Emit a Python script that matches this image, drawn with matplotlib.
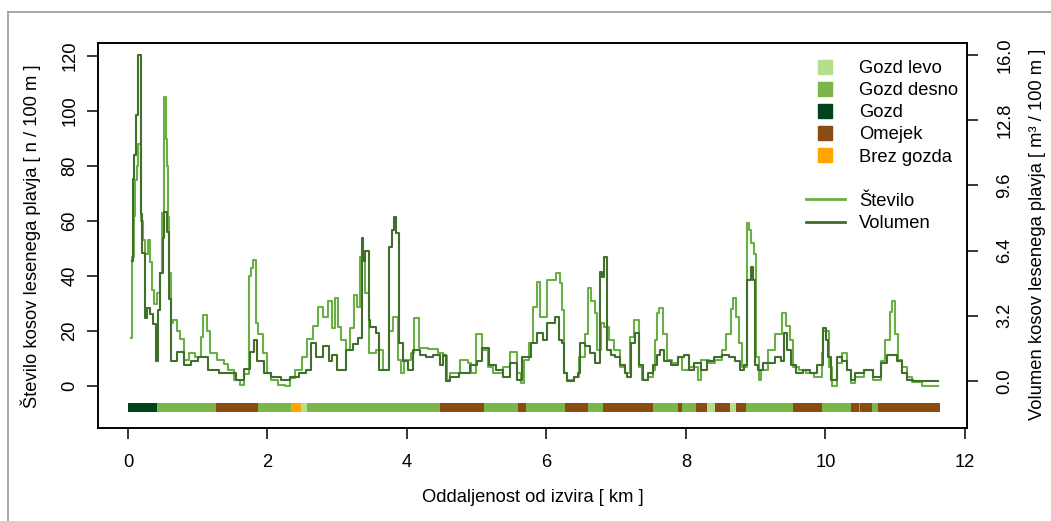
import matplotlib
matplotlib.use("Agg")
import matplotlib.pyplot as plt
from matplotlib.lines import Line2D
import numpy as np

plt.rcParams['font.family'] = ['Liberation Sans', 'DejaVu Sans']

# ---------------- data ----------------
km_stevilo = [0.05, 0.06, 0.08, 0.10, 0.13, 0.15, 0.18, 0.21, 0.25, 0.28, 0.31, 0.34, 0.38, 0.42,
              0.46, 0.49, 0.52, 0.54, 0.55, 0.56, 0.57, 0.59, 0.61, 0.65, 0.70, 0.75, 0.80, 0.88,
              0.96, 1.05, 1.08, 1.13, 1.17, 1.28, 1.38, 1.43, 1.52, 1.60, 1.66, 1.73, 1.76, 1.79,
              1.83, 1.87, 1.93, 1.99, 2.05, 2.15, 2.25, 2.32, 2.40, 2.50, 2.57, 2.65, 2.72, 2.80,
              2.87, 2.92, 2.97, 3.01, 3.06, 3.12, 3.18, 3.24, 3.29, 3.33, 3.40, 3.45, 3.55, 3.65,
              3.74, 3.80, 3.87, 3.91, 3.96, 4.06, 4.10, 4.17, 4.30, 4.45, 4.52, 4.57, 4.62, 4.76,
              4.88, 4.92, 4.99, 5.08, 5.16, 5.24, 5.38, 5.48, 5.58, 5.63, 5.68, 5.75, 5.80, 5.86,
              5.90, 6.01, 6.14, 6.19, 6.22, 6.25, 6.30, 6.40, 6.47, 6.55, 6.60, 6.64, 6.69, 6.73,
              6.78, 6.83, 6.90, 6.97, 7.05, 7.13, 7.20, 7.26, 7.32, 7.37, 7.45, 7.52, 7.56, 7.59,
              7.62, 7.67, 7.73, 7.80, 7.88, 7.95, 8.05, 8.17, 8.22, 8.33, 8.42, 8.52, 8.58, 8.64,
              8.67, 8.72, 8.76, 8.80, 8.87, 8.90, 8.93, 8.98, 9.01, 9.04, 9.08, 9.17, 9.27, 9.37,
              9.44, 9.49, 9.54, 9.62, 9.72, 9.84, 9.95, 9.97, 10.05, 10.10, 10.16, 10.24, 10.31,
              10.36, 10.42, 10.55, 10.68, 10.80, 10.86, 10.92, 10.95, 10.99, 11.04, 11.10, 11.17,
              11.24, 11.38, 11.62]
stevilo = [17.5, 47, 62, 75, 80, 88, 60, 53, 48, 53, 45, 35, 30, 34,
           41, 63, 105, 96, 90, 80, 61.5, 41, 23, 24, 20, 17, 9.5, 12,
           10.7, 18, 26, 20, 12, 9.5, 8, 5.8, 2.2, 0.4, 4.5, 40, 43, 46,
           23, 19, 12, 4.7, 2.2, 0.5, 0, 3, 5.8, 10.7, 17, 22, 28.7, 25,
           31, 21, 32, 21.5, 16.7, 13, 21, 33, 28.7, 47, 34, 12, 13, 5.8,
           20, 25, 9.5, 4.7, 9.5, 12, 24.7, 14, 13.5, 12, 11, 2.2, 4.7, 9.5,
           8.3, 4.7, 19, 13, 7, 4.7, 7, 12.5, 4.7, 1, 9.5, 15.6, 28.7, 38,
           25, 38.5, 41, 37.5, 27.6, 4.7, 2.2, 3.4, 10.5, 19, 35.6, 31, 26.5, 13,
           23, 21.5, 16.7, 13, 7, 4.7, 18, 24, 7, 2.2, 3.4, 6, 16.7, 26.5,
           28.3, 19, 9.5, 8.3, 10.5, 6, 7, 2.2, 9.5, 8.3, 9.5, 13, 19, 28,
           32, 25, 15.6, 7, 59.2, 56.7, 52, 48, 10.5, 2.2, 6, 13, 19, 26.5,
           22, 16.7, 7, 6, 4.7, 3.4, 12, 20, 7, 0, 8.3, 12, 6,
           1, 3.4, 6, 2.2, 9, 16.7, 27, 31, 19, 9.5, 7, 3.4,
           1.5, 0, 0]

km_volumen = [0.06, 0.07, 0.09, 0.11, 0.15, 0.18, 0.20, 0.24, 0.27, 0.31, 0.36, 0.40, 0.43, 0.46,
              0.50, 0.52, 0.56, 0.59, 0.61, 0.70, 0.80, 0.90, 1.00, 1.15, 1.30, 1.40, 1.55, 1.67,
              1.75, 1.81, 1.85, 1.95, 2.05, 2.20, 2.32, 2.45, 2.55, 2.62, 2.70, 2.80, 2.88, 2.93,
              3.00, 3.13, 3.22, 3.30, 3.35, 3.37, 3.40, 3.45, 3.47, 3.55, 3.60, 3.74, 3.79, 3.82,
              3.84, 3.89, 3.94, 4.02, 4.08, 4.18, 4.27, 4.38, 4.47, 4.51, 4.56, 4.62, 4.75, 4.90,
              5.00, 5.08, 5.18, 5.27, 5.38, 5.48, 5.58, 5.65, 5.78, 5.87, 5.95, 6.01, 6.12, 6.18,
              6.22, 6.25, 6.29, 6.40, 6.45, 6.48, 6.55, 6.62, 6.70, 6.77, 6.80, 6.83, 6.87, 6.92,
              6.98, 7.05, 7.12, 7.16, 7.21, 7.27, 7.32, 7.38, 7.45, 7.52, 7.58, 7.63, 7.68, 7.78,
              7.88, 7.97, 8.05, 8.12, 8.22, 8.30, 8.40, 8.52, 8.62, 8.70, 8.78, 8.83, 8.88, 8.93,
              8.96, 8.99, 9.03, 9.10, 9.20, 9.27, 9.36, 9.40, 9.45, 9.50, 9.58, 9.68, 9.78, 9.88,
              9.96, 10.01, 10.04, 10.08, 10.16, 10.24, 10.31, 10.36, 10.42, 10.55, 10.68, 10.80,
              10.88, 10.97, 11.03, 11.10, 11.17, 11.26, 11.62]
volumen = [5.9, 9.9, 11.1, 13.05, 16.0, 8.2, 6.3, 3.1, 3.6, 3.3, 2.8, 1.0, 3.5, 5.3,
           7.0, 8.3, 7.3, 4.0, 1.0, 1.4, 0.8, 1.0, 1.2, 0.55, 0.4, 0.4, 0.05, 0.6,
           1.4, 2.0, 1.0, 0.4, 0.2, 0.05, 0.2, 0.4, 0.55, 1.85, 1.2, 1.7, 1.0, 1.3,
           0.55, 1.5, 1.8, 2.1, 7.0, 5.9, 6.4, 3.0, 2.65, 2.35, 0.55, 6.6, 7.4, 8.05,
           7.25, 1.85, 1.0, 0.55, 1.5, 1.3, 1.2, 1.3, 0.8, 1.3, 0.0, 0.2, 0.4, 0.8,
           1.0, 1.6, 0.8, 0.55, 0.2, 0.9, 0.05, 1.2, 1.85, 2.35, 2.0, 2.85, 3.15, 2.0,
           1.85, 0.4, 0.0, 0.2, 0.4, 1.85, 1.7, 1.35, 0.9, 5.35, 5.1, 6.1, 1.5, 1.3,
           1.2, 0.8, 0.4, 0.2, 1.85, 2.35, 0.8, 0.05, 0.4, 0.8, 1.3, 1.5, 1.0, 0.8,
           1.2, 1.3, 0.55, 0.9, 0.55, 1.0, 1.2, 1.3, 1.2, 1.0, 0.55, 0.8, 4.95, 5.6,
           4.95, 0.8, 0.55, 0.9, 0.9, 1.2, 1.0, 2.35, 1.5, 0.8, 0.4, 0.55, 0.4, 0.8,
           2.6, 2.0, 1.2, 0.05, 1.2, 1.0, 0.55, 0.05, 0.4, 0.55, 0.2, 0.9,
           1.3, 1.3, 1.0, 0.4, 0.05, 0.0, 0.0]

seg_start = [0.0, 0.41, 1.26, 1.86, 2.34, 2.48, 2.56, 4.47, 5.11, 5.59, 5.71, 6.27, 6.60, 6.81,
             7.53, 7.88, 7.95, 8.14, 8.30, 8.42, 8.63, 8.72, 8.86, 9.54, 9.95, 10.37, 10.48,
             10.50, 10.67, 10.76]
seg_end = seg_start[1:] + [11.64]
seg_type = ['Gozd', 'Gozd desno', 'Omejek', 'Gozd desno', 'Brez gozda', 'Gozd levo',
            'Gozd desno', 'Omejek', 'Gozd desno', 'Omejek', 'Gozd desno', 'Omejek',
            'Gozd desno', 'Omejek', 'Gozd desno', 'Omejek', 'Gozd desno', 'Omejek',
            'Gozd levo', 'Omejek', 'Gozd levo', 'Omejek', 'Gozd desno', 'Omejek',
            'Gozd desno', 'Omejek', 'Gozd desno', 'Omejek', 'Gozd desno', 'Omejek']

cover_labels = ['Gozd levo', 'Gozd desno', 'Gozd', 'Omejek', 'Brez gozda']
cover_colors = ['#b5df8d', '#7ab648', '#00441f', '#8b4c13', '#ffa500']
x_ticks = [0, 2, 4, 6, 8, 10, 12]
left_ticks = [0, 20, 40, 60, 80, 100, 120]
right_ticks = [0.0, 3.2, 6.4, 9.6, 12.8, 16.0]

col_st = '#6aaf45'
col_vol = '#3f6f2b'

FS = 13.2

# ---------------- figure ----------------
W, H = 1051, 521
fig = plt.figure(figsize=(W / 100, H / 100), dpi=100)
fig.patch.set_facecolor('white')

def fx(px):
    return px / W

def fy(py):
    return 1 - py / H

ax = fig.add_axes([fx(98), fy(428), fx(967) - fx(98), fy(43) - fy(428)])
ax.set_xlim(-0.430, 12.029)
ax.set_ylim(-15.27, 124.73)

cmap = dict(zip(cover_labels, cover_colors))
widths = np.array(seg_end) - np.array(seg_start)
ax.bar(x=seg_start, height=3.2, width=widths, bottom=-9.4,
       align='edge', color=[cmap[t] for t in seg_type], linewidth=0)

ax.plot(km_stevilo, stevilo, drawstyle='steps-post', color=col_st, lw=1.5)

ax2 = ax.twinx()
ax2.set_ylim(-2.307, 16.589)
ax2.plot(km_volumen, volumen, drawstyle='steps-post', color=col_vol, lw=1.5)

for a in (ax, ax2):
    for s in a.spines.values():
        s.set_linewidth(1.2)
        s.set_color('black')

ax.set_xticks(x_ticks)
ax.set_xticklabels([str(v) for v in x_ticks])
ax.set_yticks(left_ticks)
ax.set_yticklabels([str(v) for v in left_ticks], rotation=90, va='center')
ax2.set_yticks(right_ticks)
ax2.set_yticklabels(['%.1f' % v for v in right_ticks], rotation=90, va='center')

ax.tick_params(axis='x', direction='out', length=8, width=1.1, labelsize=FS, pad=11)
ax.tick_params(axis='y', direction='out', length=8, width=1.1, labelsize=FS, pad=6)
ax2.tick_params(axis='y', direction='out', length=8, width=1.1, labelsize=FS, pad=13)

fig.text(fx(533), fy(497), 'Oddaljenost od izvira [ km ]', ha='center', va='center', fontsize=FS)
fig.text(fx(31), fy(236), 'Število kosov lesenega plavja [ n / 100 m ]', ha='center', va='center',
         rotation=90, fontsize=FS)
fig.text(fx(1037), fy(234), 'Volumen kosov lesenega plavja [ m³ / 100 m ]', ha='center',
         va='center', rotation=90, fontsize=FS)

# legend
handles = [Line2D([], [], linestyle='none', marker='s', markersize=9.5, color=c) for c in cover_colors]
handles.append(Line2D([], [], linestyle='none'))
handles.append(Line2D([], [], color=col_st, lw=2))
handles.append(Line2D([], [], color=col_vol, lw=2))
labels = cover_labels + [' ', 'Število', 'Volumen']
fig.legend(handles, labels, loc='upper left', bbox_to_anchor=(fx(806), fy(60)), frameon=False,
           fontsize=FS, borderpad=0, handlelength=2.1, handletextpad=0.8, labelspacing=0.28,
           borderaxespad=0)

# outer frame
fig.add_artist(Line2D([fx(8), fx(8)], [fy(12), 0], color='#9a9a9a', lw=1.2))
fig.add_artist(Line2D([fx(8), 1], [fy(12), fy(12)], color='#9a9a9a', lw=1.2))

fig.savefig('out.png', dpi=100)
